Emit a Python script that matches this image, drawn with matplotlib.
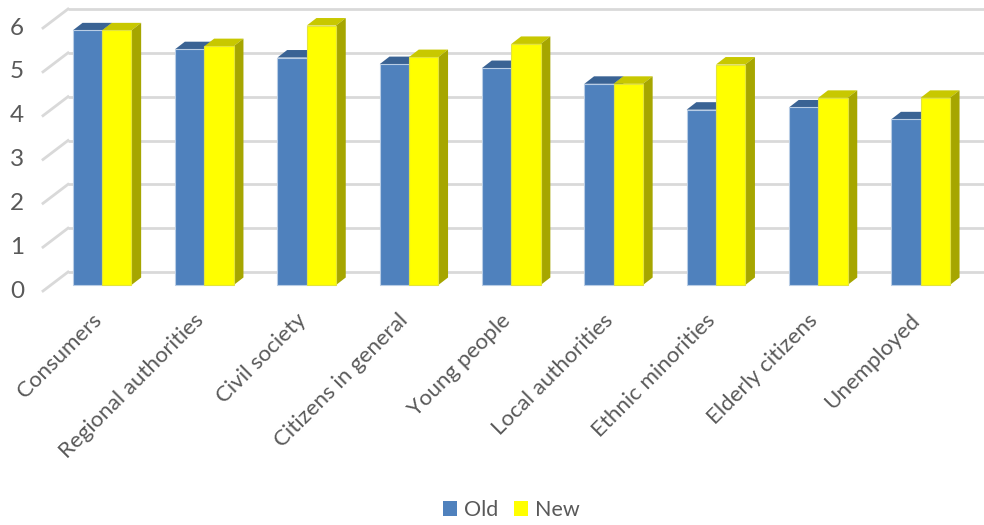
import matplotlib.pyplot as plt
from matplotlib.patches import Polygon, Patch
from matplotlib.transforms import ScaledTranslation

categories = ['Consumers', 'Regional authorities', 'Civil society', 'Citizens in general',
              'Young people', 'Local authorities', 'Ethnic minorities', 'Elderly citizens', 'Unemployed']
old_values = [5.81, 5.38, 5.19, 5.04, 4.95, 4.59, 4.00, 4.05, 3.78]
new_values = [5.81, 5.45, 5.92, 5.20, 5.50, 4.59, 5.03, 4.27, 4.27]
y_ticks = [0, 1, 2, 3, 4, 5, 6]

W, H = 984, 525
PX_X = 102.3  # pixels per category
PX_Y = 43.83  # pixels per value unit
LEFT, BOTTOM = 51, 285

# bar depth and wall depth, in data units
bar_dx = 9.7 / PX_X
bar_dy = 7.5 / PX_Y
wall_x0 = -8 / PX_X
wall_y0 = -6 / PX_Y
wall_x1 = 17 / PX_X
wall_y1 = 13 / PX_Y
bar_w = 29.3 / PX_X
TEXT = '#595959'
GRID = '#D9D9D9'

plt.rcParams['font.family'] = ['Lato', 'DejaVu Sans']

fig = plt.figure(figsize=(W / 100, H / 100), dpi=100)
ax = fig.add_axes([LEFT / W, (H - BOTTOM) / H, 9 * PX_X / W, 6 * PX_Y / H])
ax.set_xlim(0, 9)
ax.set_ylim(0, 6)
for s in ax.spines.values():
    s.set_visible(False)
ax.patch.set_visible(False)

# back wall gridlines and the slanted ticks on the left wall
right_end = (W - LEFT) / PX_X
for v in y_ticks:
    ax.plot([wall_x1, right_end], [v + wall_y1] * 2, color=GRID, lw=2, clip_on=False, zorder=1,
            solid_capstyle='butt')
    ax.plot([wall_x0, wall_x1], [v + wall_y0, v + wall_y1], color=GRID, lw=2, clip_on=False, zorder=1)
    ax.text(wall_x0 - 19 / PX_X, v + wall_y0, str(v), ha='right', va='center', fontsize=17.5, color=TEXT)


def draw_bar(x, value, front, top, side, edge, order):
    ax.add_patch(Polygon([(x, value), (x + bar_w, value), (x + bar_w + bar_dx, value + bar_dy),
                          (x + bar_dx, value + bar_dy)], color=top, lw=0, zorder=order, clip_on=False))
    ax.add_patch(Polygon([(x + bar_w, 0), (x + bar_w + bar_dx, bar_dy), (x + bar_w + bar_dx, value + bar_dy),
                          (x + bar_w, value)], color=side, lw=0, zorder=order, clip_on=False))
    ax.bar(x, value, width=bar_w, align='edge', color=front, edgecolor=edge, linewidth=0.8,
           zorder=order + 0.5, clip_on=False)


for i in range(len(categories)):
    x_center = i + 0.5
    draw_bar(x_center - bar_w, old_values[i], '#4F81BD', '#3A6394', '#3A6394', '#B9CDE5', 2 + i)
    draw_bar(x_center, new_values[i], '#FFFF00', '#C8C800', '#A6A600', '#E4E43C', 2.7 + i)

ax.set_yticks([])
ax.set_xticks([i + 0.5 for i in range(len(categories))])
ax.set_xticklabels(categories, rotation=45, ha='right', rotation_mode='anchor', fontsize=16, color=TEXT)
ax.tick_params(axis='x', length=0, pad=18)
# the labels sit a little left of the category centre
shift = ScaledTranslation(-11 / 100, 0, fig.dpi_scale_trans)
for label in ax.get_xticklabels():
    label.set_transform(label.get_transform() + shift)

handles = [Patch(facecolor='#4F81BD', label='Old'), Patch(facecolor='#FFFF00', label='New')]
fig.legend(handles=handles, loc='center', bbox_to_anchor=(511.5 / W, (H - 510) / H), ncol=2, frameon=False,
           fontsize=15.5, labelcolor=TEXT, handlelength=0.65, handleheight=0.65, handletextpad=0.3,
           columnspacing=0.75, borderpad=0)

fig.savefig('out.png', dpi=100)
